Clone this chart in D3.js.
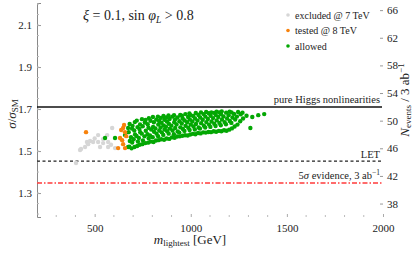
<!DOCTYPE html>
<html>
<head>
<meta charset="utf-8">
<script src="https://cdn.jsdelivr.net/npm/d3@7"></script>
<style>
  body { margin: 0; background: #fff; }
  svg text { font-family: "Liberation Serif", "DejaVu Serif", serif; fill: #222; }
</style>
</head>
<body>
<svg id="chart" width="416" height="254"></svg>
<script>
// puntos excluidos @ 7 TeV  [m_lightest, sigma/sigma_SM]
const excluidos = [
  [403, 1.443], [424, 1.505], [429, 1.510], [450, 1.519], [460, 1.543],
  [466, 1.533], [476, 1.548], [492, 1.543], [518, 1.576], [518, 1.543],
  [528, 1.519], [544, 1.538], [544, 1.557], [565, 1.576], [570, 1.543],
  [570, 1.519], [591, 1.610], [606, 1.514], [500, 1.560], [585, 1.530]
]

// puntos testeados @ 8 TeV
const testeados = [
  [455, 1.590], [648, 1.610], [658, 1.590], [643, 1.552], [632, 1.562],
  [622, 1.514], [658, 1.514], [648, 1.533], [653, 1.624], [664, 1.571],
  [638, 1.600]
]

// puntos permitidos
const permitidos = [
  [554, 1.562], [606, 1.562], [658, 1.576], [674, 1.519], [674, 1.610],
  [680, 1.521], [683, 1.548], [677, 1.590], [682, 1.629],
  [692, 1.513], [695, 1.541], [689, 1.566], [694, 1.607], [697, 1.620],
  [707, 1.519], [703, 1.556], [710, 1.579], [706, 1.598], [709, 1.638],
  [721, 1.524], [725, 1.545], [718, 1.572], [723, 1.614], [719, 1.645],
  [734, 1.530], [730, 1.562], [737, 1.590], [733, 1.605], [736, 1.627],
  [748, 1.533], [751, 1.551], [745, 1.583], [750, 1.618], [746, 1.652],
  [763, 1.538], [759, 1.570], [766, 1.597], [761, 1.636], [765, 1.648],
  [778, 1.540], [781, 1.561], [775, 1.580], [780, 1.611], [776, 1.628], [782, 1.657],
  [791, 1.545], [788, 1.574], [794, 1.603], [790, 1.644],
  [806, 1.543], [802, 1.566], [809, 1.592], [804, 1.615], [808, 1.637], [803, 1.662],
  [819, 1.550], [822, 1.583], [816, 1.608], [821, 1.650],
  [833, 1.552], [830, 1.571], [836, 1.598], [831, 1.626], [835, 1.643], [829, 1.664],
  [846, 1.556], [849, 1.589], [843, 1.612], [848, 1.635], [844, 1.658],
  [861, 1.554], [857, 1.577], [864, 1.603], [859, 1.622], [863, 1.649], [858, 1.667],
  [874, 1.560], [877, 1.594], [871, 1.616], [876, 1.641], [872, 1.660],
  [888, 1.558], [885, 1.583], [891, 1.607], [886, 1.630], [890, 1.653], [884, 1.669],
  [902, 1.565], [905, 1.598], [899, 1.621], [904, 1.664],
  [916, 1.563], [912, 1.580], [919, 1.610], [914, 1.637], [918, 1.650], [913, 1.671],
  [929, 1.569], [932, 1.593], [926, 1.627], [931, 1.660],
  [943, 1.570], [940, 1.588], [946, 1.613], [941, 1.642], [945, 1.672],
  [956, 1.573], [959, 1.605], [953, 1.631], [958, 1.655], [954, 1.668],
  [970, 1.575], [967, 1.596], [973, 1.620], [968, 1.646], [972, 1.676],
  [984, 1.574], [987, 1.611], [981, 1.637], [986, 1.662],
  [997, 1.579], [994, 1.600], [1000, 1.626], [995, 1.650], [999, 1.671], [993, 1.679],
  [1011, 1.582], [1014, 1.617], [1008, 1.641], [1013, 1.667],
  [1024, 1.580], [1021, 1.603], [1027, 1.629], [1022, 1.655], [1026, 1.681],
  [1038, 1.586], [1041, 1.612], [1035, 1.645], [1040, 1.672],
  [1051, 1.584], [1048, 1.607], [1054, 1.633], [1049, 1.660], [1053, 1.684],
  [1065, 1.589], [1068, 1.621], [1062, 1.649], [1067, 1.676],
  [1078, 1.588], [1075, 1.612], [1081, 1.638], [1076, 1.664], [1080, 1.686],
  [1092, 1.591], [1095, 1.626], [1089, 1.653], [1094, 1.680],
  [1105, 1.590], [1102, 1.615], [1108, 1.641], [1103, 1.668], [1107, 1.684],
  [1119, 1.594], [1122, 1.630], [1116, 1.657], [1121, 1.682],
  [1132, 1.592], [1129, 1.619], [1135, 1.646], [1130, 1.672], [1134, 1.688],
  [1146, 1.596], [1149, 1.634], [1143, 1.662], [1148, 1.684],
  [1159, 1.594], [1156, 1.623], [1162, 1.650], [1157, 1.676], [1161, 1.689],
  [1173, 1.599], [1176, 1.638], [1170, 1.665],
  [1186, 1.597], [1183, 1.628], [1189, 1.655], [1184, 1.683],
  [1200, 1.602], [1203, 1.643], [1197, 1.671], [1202, 1.688],
  [1214, 1.608], [1211, 1.634], [1217, 1.660], [1212, 1.684],
  [1228, 1.617], [1231, 1.650], [1225, 1.677],
  [1243, 1.626], [1240, 1.664], [1246, 1.686],
  [1257, 1.642], [1260, 1.675],
  [1272, 1.655], [1269, 1.683],
  [1290, 1.668],
  [1310, 1.610], [1320, 1.662], [1351, 1.671], [1382, 1.676]
]

// lineas horizontales de referencia
const higgs_puro = 1.71
const let_nivel = 1.452
const cinco_sigma = 1.348

// ticks
const ticks_x = [500, 1000, 1500, 2000]
const ticks_y = [1.3, 1.5, 1.7, 1.9, 2.1]
const ticks_n = [38, 42, 46, 50, 54, 58, 62, 66]
const eventos_por_sigma = 30.4

// leyenda
const leyenda = ["excluded @ 7 TeV", "tested @ 8 TeV", "allowed"]
const colores = ["#d6d6d6", "#f7820c", "#03a703"]

const fuente = "Liberation Serif"
const svg = d3.select("#chart")

// escalas
const x = d3.scaleLinear().domain([200, 2000]).range([37, 383])
const y = d3.scaleLinear().domain([1.186, 2.205]).range([217, 3])
const yN = d3.scaleLinear()
  .domain(y.domain().map(d => d * eventos_por_sigma)).range(y.range())

// eje izquierdo
const ejeY = svg.append("g").attr("transform", "translate(37,0)")
  .call(d3.axisLeft(y).tickValues(ticks_y).tickFormat(d3.format(".1f"))
    .tickSize(-4).tickPadding(5))
ejeY.attr("font-family", fuente)
ejeY.select(".domain").attr("stroke", "#888")
ejeY.selectAll(".tick line").attr("stroke", "#999")
ejeY.selectAll("text").style("font-size", "11px").style("font-family", fuente)
  .attr("fill", "#333")
// ticks menores izquierdos
svg.append("g").selectAll("line")
  .data(d3.range(1.2, 2.21, 0.05).filter(v => y(v) > 3))
  .enter().append("line")
  .attr("x1", 37).attr("x2", 39)
  .attr("y1", d => y(d)).attr("y2", d => y(d))
  .attr("stroke", "#bbb")

// eje inferior (sin linea)
const ejeX = svg.append("g").attr("transform", "translate(0,217)")
  .call(d3.axisBottom(x).tickValues(ticks_x).tickFormat(d3.format("d"))
    .tickSize(-3).tickPadding(7))
ejeX.attr("font-family", fuente)
ejeX.select(".domain").remove()
ejeX.selectAll(".tick line").attr("stroke", "#aaa")
ejeX.selectAll("text").style("font-size", "11px").style("font-family", fuente)
  .attr("fill", "#333")
svg.append("g").selectAll("line")
  .data(d3.range(300, 2000, 100).filter(v => v % 500 != 0))
  .enter().append("line")
  .attr("x1", d => x(d)).attr("x2", d => x(d))
  .attr("y1", 215).attr("y2", 217)
  .attr("stroke", "#bbb")

// eje derecho (N eventos)
const ejeN = svg.append("g").attr("transform", "translate(383,0)")
  .call(d3.axisRight(yN).tickValues(ticks_n).tickSize(-3).tickPadding(4))
ejeN.attr("font-family", fuente)
ejeN.select(".domain").remove()
ejeN.selectAll(".tick line").attr("stroke", "#999")
ejeN.selectAll("text").style("font-size", "11px").style("font-family", fuente)
  .attr("fill", "#333")

// lineas horizontales
svg.append("line")
  .attr("x1", 37).attr("x2", 382)
  .attr("y1", y(higgs_puro)).attr("y2", y(higgs_puro))
  .attr("stroke", "#111").attr("stroke-width", 1.6)
svg.append("line")
  .attr("x1", 37).attr("x2", 382)
  .attr("y1", y(let_nivel)).attr("y2", y(let_nivel))
  .attr("stroke", "#222").attr("stroke-width", 1.4)
  .attr("stroke-dasharray", "3,2.5")
svg.append("line")
  .attr("x1", 37).attr("x2", 382)
  .attr("y1", y(cinco_sigma)).attr("y2", y(cinco_sigma))
  .attr("stroke", "#ff3b3b").attr("stroke-width", 1.3)
  .attr("stroke-dasharray", "5,2,1.5,2")

// textos de las lineas
svg.append("text").attr("x", 380).attr("y", y(higgs_puro) - 4)
  .attr("text-anchor", "end").style("font-size", "10.5px")
  .text("pure Higgs nonlinearities")
svg.append("text").attr("x", 380).attr("y", y(let_nivel) - 3)
  .attr("text-anchor", "end").style("font-size", "10.5px")
  .text("LET")
const t5 = svg.append("text").attr("x", 380).attr("y", y(cinco_sigma) - 4)
  .attr("text-anchor", "end").style("font-size", "10.5px")
t5.append("tspan").text("5")
t5.append("tspan").style("font-style", "italic").text("σ")
t5.append("tspan").text(" evidence, 3 ab")
t5.append("tspan").attr("dy", -4).style("font-size", "7.5px").text("−1")

// puntos
function puntos(datos, color) {
  svg.append("g").selectAll("circle")
    .data(datos).enter().append("circle")
    .attr("cx", d => x(d[0]))
    .attr("cy", d => y(d[1]))
    .attr("r", 2.2)
    .style("fill", color)
}
puntos(excluidos, colores[0])
puntos(permitidos, colores[2])
puntos(testeados, colores[1])

// leyenda
leyenda.forEach((nombre, i) => {
  svg.append("circle").attr("cx", 288).attr("cy", 15 + i * 15.5)
    .attr("r", 1.8).style("fill", colores[i])
  svg.append("text").attr("x", 295).attr("y", 18.5 + i * 15.5)
    .style("font-size", "10px").text(nombre)
})

// titulo
const titulo = svg.append("text").attr("x", 83).attr("y", 20)
  .style("font-size", "14px")
titulo.append("tspan").style("font-style", "italic").text("ξ")
titulo.append("tspan").text(" = 0.1, sin ")
titulo.append("tspan").style("font-style", "italic").text("φ")
titulo.append("tspan").attr("dy", 3).style("font-size", "9.5px")
  .style("font-style", "italic").text("L")
titulo.append("tspan").attr("dy", -3).text(" > 0.8")

// titulo eje x
const tx = svg.append("text").attr("x", 190).attr("y", 244)
  .attr("text-anchor", "middle").style("font-size", "13px")
tx.append("tspan").style("font-style", "italic").text("m")
tx.append("tspan").attr("dy", 2).style("font-size", "9px").text("lightest")
tx.append("tspan").attr("dy", -2).text(" [GeV]")

// titulo eje y izquierdo
const ty = svg.append("text")
  .attr("transform", "translate(16,114) rotate(-90)")
  .attr("text-anchor", "middle").style("font-size", "13px")
ty.append("tspan").style("font-style", "italic").text("σ")
ty.append("tspan").text("/")
ty.append("tspan").style("font-style", "italic").text("σ")
ty.append("tspan").attr("dy", 2).style("font-size", "9px").text("SM")

// titulo eje y derecho
const tn = svg.append("text")
  .attr("transform", "translate(409,100) rotate(-90)")
  .attr("text-anchor", "middle").style("font-size", "13px")
tn.append("tspan").style("font-style", "italic").text("N")
tn.append("tspan").attr("dy", 2).style("font-size", "9px").text("events")
tn.append("tspan").attr("dy", -2).text(" / 3 ab")
tn.append("tspan").attr("dy", -5).style("font-size", "9px").text("−1")
</script>
</body>
</html>
